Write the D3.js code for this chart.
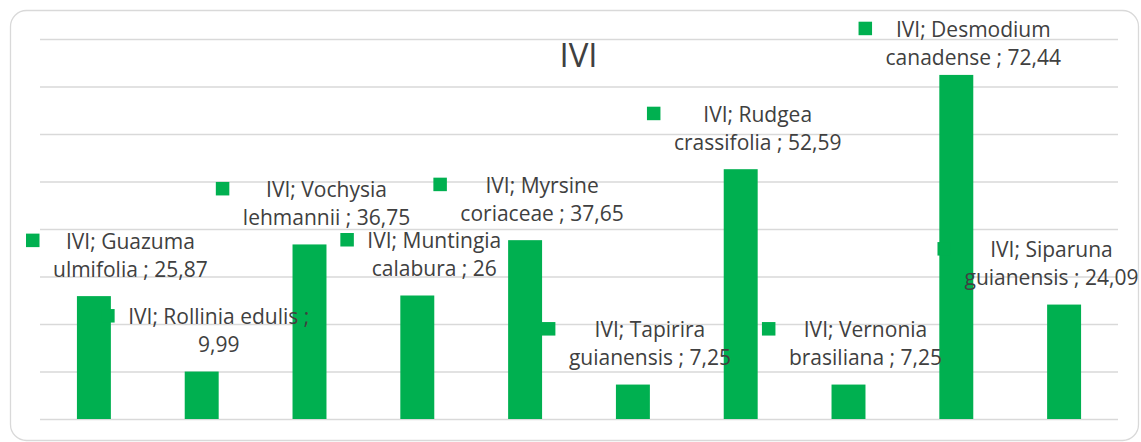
<!DOCTYPE html>
<html>
<head>
<meta charset="utf-8">
<script src="https://cdn.jsdelivr.net/npm/d3@7"></script>
<style>
  html, body { margin: 0; padding: 0; background: #fff; }
  svg { display: block; font-family: "Open Sans", sans-serif; }
</style>
</head>
<body>
<svg id="chart" width="1141" height="442"></svg>
<script>
// ---- data ----
const seriesName = "IVI";
const categories = [
  "Guazuma ulmifolia", "Rollinia edulis", "Vochysia lehmannii", "Muntingia calabura",
  "Myrsine coriaceae", "Tapirira guianensis", "Rudgea crassifolia", "Vernonia brasiliana",
  "Desmodium canadense", "Siparuna guianensis"
];
const values = [25.87, 9.99, 36.75, 26, 37.65, 7.25, 52.59, 7.25, 72.44, 24.09];
const yTicks = [0, 10, 20, 30, 40, 50, 60, 70, 80];

// ---- layout ----
const W = 1141, H = 442;
const plot = { left: 40, right: 1118, top: 39, bottom: 419 };
const green = "#00B050";
const textColor = "#404040";
const gridColor = "#d9d9d9";

const svg = d3.select("#chart");

// chart frame
svg.append("rect")
  .attr("x", 10.5).attr("y", 10.5)
  .attr("width", 1128).attr("height", 430)
  .attr("rx", 16).attr("ry", 16)
  .attr("fill", "#fff")
  .attr("stroke", "#d9d9d9").attr("stroke-width", 1.3);

const x = d3.scaleBand()
  .domain(categories)
  .range([plot.left, plot.right])
  .paddingInner(0.685)
  .paddingOuter(0.3425);

const y = d3.scaleLinear()
  .domain([0, 80])
  .range([plot.bottom, plot.top]);

// gridlines
const yAxis = d3.axisLeft(y).tickValues(yTicks)
  .tickSize(-(plot.right - plot.left)).tickFormat("");
const gAxis = svg.append("g")
  .attr("transform", `translate(${plot.left},0)`)
  .call(yAxis);
gAxis.select(".domain").remove();
gAxis.selectAll(".tick line")
  .attr("stroke", gridColor).attr("stroke-width", 1.5);

// title
svg.append("text")
  .attr("x", 578.5).attr("y", 66.5)
  .attr("text-anchor", "middle")
  .attr("font-size", 33)
  .attr("fill", textColor)
  .text(seriesName);

// bars
svg.append("g").selectAll("rect")
  .data(categories)
  .join("rect")
  .attr("x", d => x(d))
  .attr("width", x.bandwidth())
  .attr("y", (d, i) => y(values[i]))
  .attr("height", (d, i) => y(0) - y(values[i]))
  .attr("fill", green);

// data labels with legend key
const fmt = v => String(v).replace(".", ",");
const fontSize = 21, lineH = 28, maxW = 190;
const measure = svg.append("text").attr("font-size", fontSize).attr("visibility", "hidden");
function textW(s) { measure.text(s); return measure.node().getComputedTextLength(); }
function wrap(str) {
  const words = str.split(" ");
  const lines = [];
  let cur = words[0];
  for (let k = 1; k < words.length; k++) {
    const t = cur + " " + words[k];
    if (textW(t) <= maxW) cur = t; else { lines.push(cur); cur = words[k]; }
  }
  lines.push(cur);
  return lines;
}

const labelsG = svg.append("g");
categories.forEach((c, i) => {
  const lines = wrap(`${seriesName}; ${c} ; ${fmt(values[i])}`);
  const w = d3.max(lines, textW);
  let cx = x(c) + x.bandwidth() / 2 + 17;
  const keyW = 13.5, gap = 13.5;
  if (cx - w / 2 - keyW - gap < 26) cx = 26 + keyW + gap + w / 2;
  if (cx + w / 2 > 1138.5) cx = 1138.5 - w / 2;
  let b1 = y(values[i]) - 47.5;
  if (b1 < 36.7) b1 = 36.7;
  const g = labelsG.append("g");
  g.append("rect")
    .attr("x", cx - w / 2 - keyW - gap)
    .attr("y", b1 - 15)
    .attr("width", keyW).attr("height", keyW)
    .attr("fill", green);
  lines.forEach((ln, k) => {
    g.append("text")
      .attr("x", cx).attr("y", b1 + k * lineH)
      .attr("text-anchor", "middle")
      .attr("font-size", fontSize)
      .attr("fill", textColor)
      .text(ln);
  });
});
measure.remove();
</script>
</body>
</html>
